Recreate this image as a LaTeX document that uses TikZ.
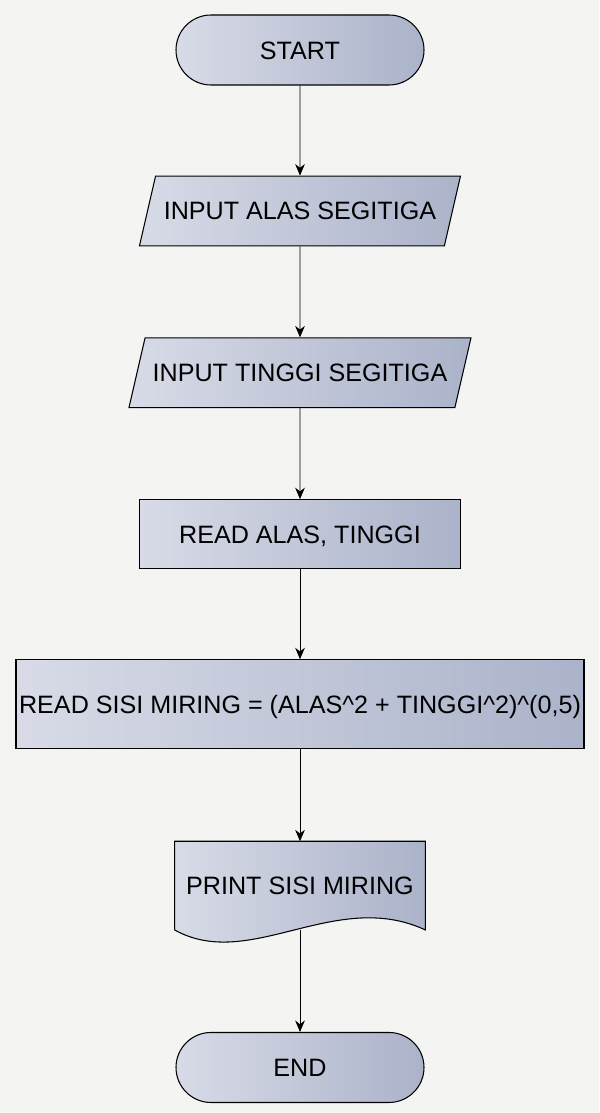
\documentclass[tikz,border=0pt]{standalone}
\usepackage{fontspec}
\setmainfont{Liberation Sans}
\usepackage{tikz}
\usetikzlibrary{positioning}
\usetikzlibrary{calc,shapes.geometric,arrows.meta,backgrounds}
\definecolor{paper}{HTML}{F4F4F2}
\definecolor{boxl}{HTML}{D8DBE7}
\definecolor{boxr}{HTML}{ABB3CA}
\tikzset{
  fcnode/.style = {align=center, inner sep=0pt, text centered,
    font=\fontsize{14.3}{17}\selectfont, text height=10.3pt, text depth=0pt},
  fc_fill/.style = {draw=black, line width=0.6pt, left color=boxl, right color=boxr},
  fc_t/.style = {fcnode, fc_fill, rectangle, rounded corners=0.7cm,
    minimum width=4.96cm, minimum height=1.4cm},% terminal
  fc_io/.style = {fcnode, fc_fill, trapezium, trapezium stretches body=true,
    trapezium left angle=77, trapezium right angle=103,
    inner ysep=14.69pt},% input
  fc_p/.style = {fcnode, fc_fill, rectangle},% proses
  fc_d/.style = {fcnode, rectangle, minimum width=5cm,
    minimum height=1.76cm}% dokumen, bentuknya digambar di background
}

\begin{document}
\begin{tikzpicture}[->,>={Stealth[length=6.5pt,width=5.5pt]},line width=0.6pt]
\useasboundingbox (0,0) rectangle (11.98,-22.26);
\begin{pgfonlayer}{background}
  \fill[paper] (0,0) rectangle (11.98,-22.26);
\end{pgfonlayer}
\node [fc_t] (start) at (6,-1) {START};
\node [fc_io, minimum width=6.42cm, below=1.8cm of start] (in1) {INPUT ALAS SEGITIGA};
\node [fc_io, minimum width=6.84cm, below=1.82cm of in1] (in2) {INPUT TINGGI SEGITIGA};
\node [fc_p, minimum width=6.42cm, minimum height=1.38cm, below=1.82cm of in2] (read)
  {READ ALAS, TINGGI};
\node [fc_p, minimum width=11.36cm, minimum height=1.78cm, below=1.8cm of read] (calc)
  {READ SISI MIRING = (ALAS\^{}2 + TINGGI\^{}2)\^{}(0,5)};
\node [fc_d, below=1.84cm of calc] (print) {PRINT SISI MIRING};
\node [fc_t, below=2.04cm of print] (end) {END};
\begin{pgfonlayer}{background}
  \draw[-, fc_fill] (print.south west) -- (print.north west) -- (print.north east)
    -- (print.south east)
    .. controls ($(print.south east)!0.36!(print.south west)+(0,0.84)$)
    and ($(print.south east)!0.7!(print.south west)+(0,-0.84)$) .. (print.south west)
    -- cycle;
\end{pgfonlayer}
\foreach \a/\b in {start/in1, in1/in2, in2/read, read/calc, calc/print, print/end}
  \draw (\a) -- (\b);
\end{tikzpicture}
\end{document}
